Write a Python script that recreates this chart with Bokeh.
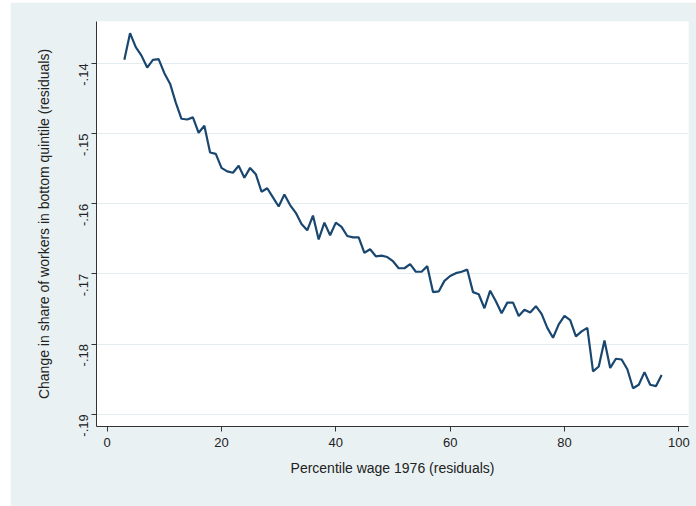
import math
from bokeh.plotting import figure
from bokeh.models import ColumnDataSource, Range1d, FixedTicker, CustomJSTickFormatter
from bokeh.embed import file_html
from bokeh.resources import INLINE

percentile = list(range(3, 98))
share_change = [
    -0.1395, -0.1357, -0.1377, -0.1389, -0.1406, -0.1395, -0.1394, -0.1414, -0.1429, -0.1456,
    -0.1479, -0.1480, -0.1477, -0.1499, -0.1489, -0.1527, -0.1529, -0.1549, -0.1554, -0.1556,
    -0.1546, -0.1563, -0.1549, -0.1558, -0.1583, -0.1578, -0.1591, -0.1604, -0.1587, -0.1602,
    -0.1613, -0.1629, -0.1638, -0.1617, -0.1651, -0.1627, -0.1645, -0.1627, -0.1633, -0.1646,
    -0.1648, -0.1648, -0.1670, -0.1665, -0.1675, -0.1674, -0.1676, -0.1682, -0.1692, -0.1692,
    -0.1686, -0.1697, -0.1697, -0.1689, -0.1726, -0.1725, -0.1710, -0.1703, -0.1699, -0.1697,
    -0.1694, -0.1726, -0.1729, -0.1749, -0.1724, -0.1739, -0.1756, -0.1741, -0.1741, -0.1760,
    -0.1751, -0.1755, -0.1746, -0.1757, -0.1777, -0.1791, -0.1772, -0.1760, -0.1766, -0.1789,
    -0.1782, -0.1777, -0.1839, -0.1832, -0.1795, -0.1834, -0.1821, -0.1822, -0.1836, -0.1863,
    -0.1858, -0.1840, -0.1858, -0.1860, -0.1844,
]
x_ticks = [0, 20, 40, 60, 80, 100]
y_ticks = [-0.19, -0.18, -0.17, -0.16, -0.15, -0.14]

BG = "#E9F1F3"
NAVY = "#1A476F"
FONT = "Liberation Sans"

src = ColumnDataSource(data=dict(x=percentile, y=share_change))

p = figure(width=686, height=504, output_backend="svg", toolbar_location=None,
           x_range=Range1d(-1.87, 101.7), y_range=Range1d(-0.19175, -0.13404),
           min_border_left=86, min_border_right=8, min_border_top=19, min_border_bottom=80)
p.margin = (2, 0, 0, 10)
p.border_fill_color = BG
p.background_fill_color = "white"
p.outline_line_color = None

p.line("x", "y", source=src, line_color=NAVY, line_width=2.2)

p.xgrid.visible = False
p.ygrid.grid_line_color = "#E3ECEF"
p.ygrid.grid_line_width = 1

for ax in (p.xaxis[0], p.yaxis[0]):
    ax.axis_line_color = "#333333"
    ax.axis_line_width = 1
    ax.major_tick_line_color = "#333333"
    ax.major_tick_out = 5
    ax.major_tick_in = 0
    ax.minor_tick_line_color = None
    ax.major_label_text_font = FONT
    ax.major_label_text_font_size = "13px"
    ax.major_label_text_color = "#222222"
    ax.axis_label_text_font = FONT
    ax.axis_label_text_font_size = "14px"
    ax.axis_label_text_font_style = "normal"
    ax.axis_label_text_color = "#222222"

p.xaxis.ticker = FixedTicker(ticks=x_ticks)
p.xaxis.axis_label = "Percentile wage 1976 (residuals)"
p.xaxis.major_label_standoff = 6
p.xaxis.axis_label_standoff = 10

p.yaxis.ticker = FixedTicker(ticks=y_ticks)
p.yaxis.formatter = CustomJSTickFormatter(code="""
    var s = tick.toFixed(2);
    return s.replace('0.', '.');
""")
p.yaxis.major_label_orientation = math.pi / 2
p.yaxis.axis_label = "Change in share of workers in bottom quintile (residuals)"
p.yaxis.major_label_standoff = 8
p.yaxis.axis_label_standoff = 20

open("out.html", "w").write(file_html(p, INLINE))
